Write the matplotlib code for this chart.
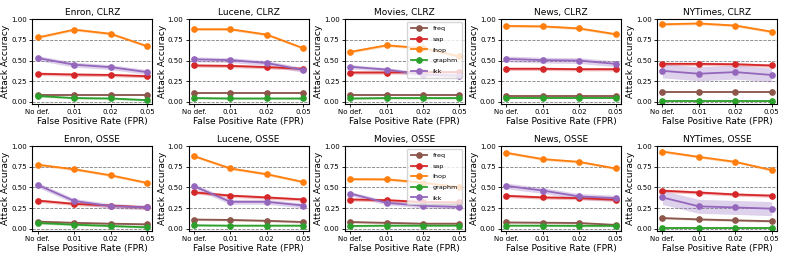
import matplotlib
matplotlib.use("Agg")
import matplotlib.pyplot as plt
import numpy as np

datasets = ["Enron", "Lucene", "Movies", "News", "NYTimes"]
defenses = ["CLRZ", "OSSE"]
fpr_labels = ["No def.", "0.01", "0.02", "0.05"]
methods = ["freq", "sap", "ihop", "graphm", "ikk"]
colors = {"freq": "#8c564b", "sap": "#d62728", "ihop": "#ff7f0e",
          "graphm": "#2ca02c", "ikk": "#9467bd"}

# mean accuracy, one row per dataset (Enron, Lucene, Movies, News, NYTimes)
freq_clrz = [[0.085, 0.085, 0.085, 0.085], [0.11, 0.11, 0.11, 0.11], [0.08, 0.08, 0.08, 0.08],
             [0.075, 0.075, 0.075, 0.075], [0.12, 0.12, 0.12, 0.12]]
sap_clrz = [[0.34, 0.33, 0.325, 0.31], [0.44, 0.435, 0.42, 0.40], [0.355, 0.355, 0.36, 0.36],
            [0.40, 0.40, 0.395, 0.395], [0.46, 0.46, 0.455, 0.44]]
ihop_clrz = [[0.78, 0.875, 0.825, 0.675], [0.88, 0.88, 0.815, 0.65], [0.605, 0.685, 0.65, 0.55],
             [0.92, 0.915, 0.89, 0.82], [0.94, 0.95, 0.925, 0.85]]
graphm_clrz = [[0.07, 0.045, 0.04, 0.02], [0.045, 0.04, 0.04, 0.04], [0.04, 0.045, 0.045, 0.045],
               [0.04, 0.04, 0.04, 0.04], [0.008, 0.008, 0.008, 0.008]]
ikk_clrz = [[0.53, 0.45, 0.42, 0.36], [0.515, 0.505, 0.47, 0.385], [0.425, 0.39, 0.33, 0.315],
            [0.52, 0.505, 0.50, 0.46], [0.375, 0.34, 0.36, 0.325]]

freq_osse = [[0.085, 0.07, 0.06, 0.052], [0.11, 0.105, 0.095, 0.08], [0.08, 0.07, 0.06, 0.06],
             [0.075, 0.072, 0.068, 0.045], [0.128, 0.112, 0.10, 0.09]]
sap_osse = [[0.34, 0.30, 0.28, 0.257], [0.44, 0.40, 0.378, 0.353], [0.353, 0.345, 0.322, 0.318],
            [0.398, 0.378, 0.37, 0.35], [0.46, 0.438, 0.414, 0.40]]
ihop_osse = [[0.775, 0.72, 0.647, 0.555], [0.88, 0.73, 0.66, 0.566], [0.60, 0.598, 0.558, 0.502],
             [0.92, 0.843, 0.81, 0.73], [0.935, 0.87, 0.81, 0.71]]
graphm_osse = [[0.068, 0.048, 0.032, 0.016], [0.04, 0.036, 0.036, 0.036], [0.032, 0.036, 0.036, 0.036],
               [0.036, 0.036, 0.034, 0.034], [0.01, 0.01, 0.01, 0.01]]
ikk_osse = [[0.53, 0.335, 0.273, 0.257], [0.515, 0.325, 0.325, 0.28], [0.425, 0.313, 0.277, 0.262],
            [0.518, 0.462, 0.39, 0.37], [0.378, 0.27, 0.257, 0.242]]

# half-width of the shaded band per method
spread = {"freq": 0.012, "sap": 0.02, "ihop": 0.015, "graphm": 0.012}
ikk_spread = [0.03, 0.03, 0.025, 0.035, 0.085]

results = {
    "CLRZ": {"freq": freq_clrz, "sap": sap_clrz, "ihop": ihop_clrz,
             "graphm": graphm_clrz, "ikk": ikk_clrz},
    "OSSE": {"freq": freq_osse, "sap": sap_osse, "ihop": ihop_osse,
             "graphm": graphm_osse, "ikk": ikk_osse},
}

fig, axes = plt.subplots(2, 5, figsize=(7.89, 2.63), dpi=100)
plt.subplots_adjust(left=0.041, right=0.985, top=0.928, bottom=0.122,
                    wspace=0.30, hspace=0.49)

x = np.arange(len(fpr_labels))
for r, d in enumerate(defenses):
    for c, ds in enumerate(datasets):
        ax = axes[r, c]
        for m in methods:
            y = np.asarray(results[d][m][c])
            s = ikk_spread[c] if m == "ikk" else spread[m]
            ax.fill_between(x, y - s, y + s, color=colors[m], alpha=0.3, linewidth=0)
            ax.plot(x, y, "o-", color=colors[m], label=m, linewidth=1.3, markersize=3.8)
        ax.set_title(ds + ", " + d, fontsize=6.5, pad=3)
        ax.set_xticks(x)
        ax.set_xticklabels(fpr_labels, fontsize=5)
        ax.set_ylim(-0.028, 1.005)
        ax.set_yticks([0, 0.25, 0.5, 0.75, 1.0])
        ax.set_yticklabels(["0.00", "0.25", "0.50", "0.75", "1.00"], fontsize=5)
        ax.tick_params(length=2.5, width=0.6, pad=1.2)
        ax.yaxis.grid(True, linestyle="--", color="grey", linewidth=0.6)
        ax.set_axisbelow(True)
        ax.set_xlabel("False Positive Rate (FPR)", fontsize=6.5, labelpad=1.5)
        ax.set_ylabel("Attack Accuracy", fontsize=6.5, labelpad=0.8)
        if ds == "Movies":
            ax.legend(loc="upper right", fontsize=4.6, labelspacing=0.8,
                      borderpad=0.6, handlelength=2.6)

plt.savefig("out.png")
